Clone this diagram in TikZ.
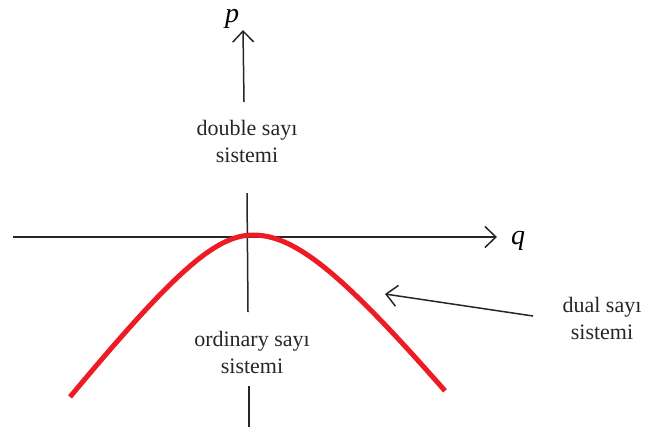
\documentclass[tikz,border=0pt]{standalone}
\usepackage{fontspec}
\setmainfont{Liberation Serif}
\usetikzlibrary{arrows.meta}
\begin{document}
\begin{tikzpicture}[x=1pt,y=-1pt,
  axis/.style={line width=1.5pt,black!85},
  barb/.style={-{Straight Barb[length=11pt,width=21pt,line width=1.5pt]}},
  lbl/.style={align=center,font=\fontsize{22}{27}\selectfont,text=black!85,inner sep=0pt},
  axlbl/.style={font=\fontsize{28}{30}\selectfont\itshape,inner sep=0pt}]
\useasboundingbox (0,0) rectangle (647,432);
% coordinates
\coordinate (ptop) at (243,30);
\coordinate (pbot) at (244,102);
\coordinate (xl) at (13,237);
\coordinate (xr) at (497,237);
\coordinate (vt) at (247,193);
\coordinate (vb) at (248,312);
\coordinate (bt) at (249,386);
\coordinate (bb) at (249,427);
\coordinate (ds) at (533,316);
\coordinate (de) at (385,294);
% labels
\node[axlbl] (p) at (232,19) {p};
\node[axlbl] (q) at (518,241) {q};
\node[lbl] (double) at (247,141) {double sayı\\sistemi};
\node[lbl] (ordinary) at (252,352) {ordinary sayı\\sistemi};
\node[lbl] (dual) at (602,318) {dual sayı\\sistemi};
% axes
\draw[axis,barb] (pbot) -- (ptop);
\draw[axis,barb] (xl) -- (xr);
\draw[axis] (vt) -- (vb);
\draw[axis] (bt) -- (bb);
% red curve
\draw[line width=5pt,color={rgb,255:red,237;green,28;blue,36}]
  plot[domain=-183:0,samples=60,variable=\t] ({253+\t},{235+90*(sqrt(1+(\t/70)^2)-1)})
  -- plot[domain=0:192,samples=60,variable=\t] ({253+\t},{235+106*(sqrt(1+(\t/85)^2)-1)});
% dual arrow
\draw[axis,barb] (ds) -- (de);
\end{tikzpicture}
\end{document}
